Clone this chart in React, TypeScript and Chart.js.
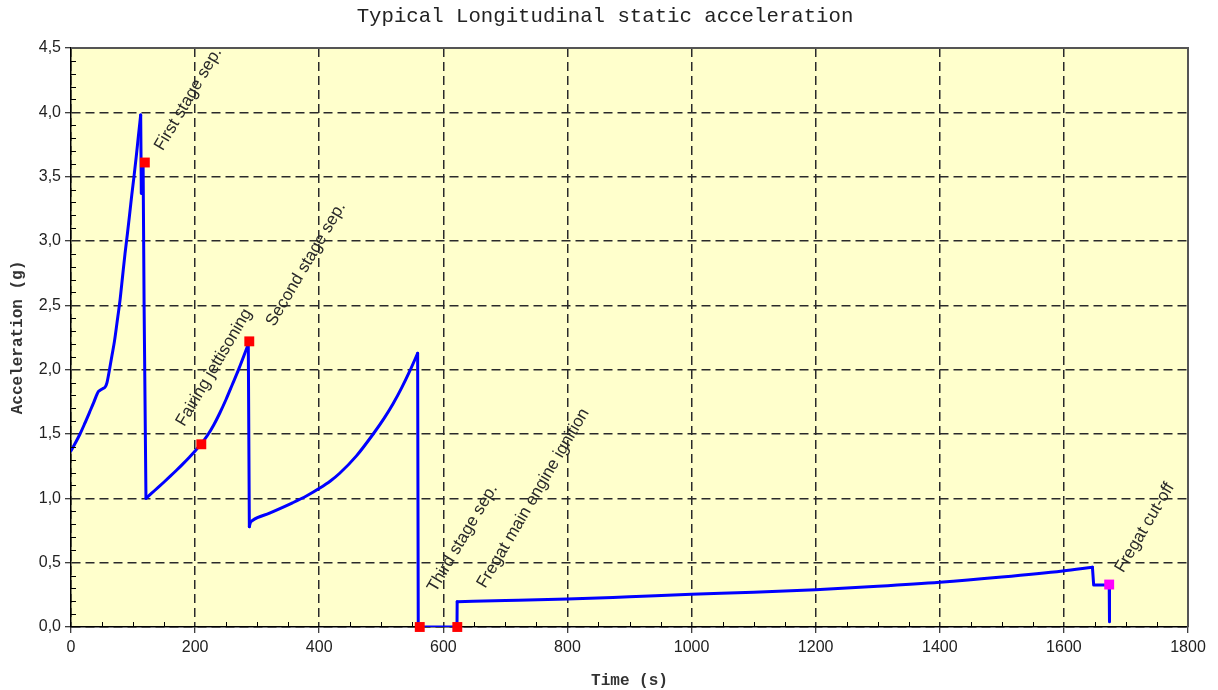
import React, { useEffect, useRef } from 'react';
import { Chart, registerables } from 'chart.js';

Chart.register(...registerables);

const chartTitle = 'Typical Longitudinal static acceleration';
const xAxisTitle = 'Time (s)';
const yAxisTitle = 'Acceleration (g)';

// Acceleration profile by flight phase (time in s, acceleration in g)
// smooth phases
const stage1T = [0, 7, 14.5, 22, 30, 37, 42, 44, 47, 52, 55, 58, 62, 66, 70, 74, 79, 83, 87, 91, 95, 98, 101.5, 105, 108.5, 112.3];
const stage1G = [1.37, 1.43, 1.5, 1.58, 1.67, 1.75, 1.81, 1.83, 1.84, 1.855, 1.865, 1.9, 2.0, 2.11, 2.22, 2.36, 2.54, 2.72, 2.9, 3.06, 3.23, 3.36, 3.5, 3.65, 3.81, 3.98];
const stage2T = [120.8, 130, 140, 150, 160, 170, 180, 190, 200, 210, 220, 230, 240, 250, 260, 270, 280, 285.7];
const stage2G = [1.0, 1.04, 1.083, 1.127, 1.172, 1.218, 1.266, 1.316, 1.368, 1.425, 1.49, 1.57, 1.665, 1.77, 1.885, 2.0, 2.125, 2.2];
const stage3T = [287.4, 289, 293, 320, 357, 380, 401, 418, 433, 460, 487, 505, 519, 533, 546, 558.6];
const stage3G = [0.78, 0.81, 0.83, 0.885, 0.965, 1.02, 1.08, 1.135, 1.195, 1.33, 1.5, 1.625, 1.735, 1.86, 1.99, 2.127];
const fregatT = [622.3, 700, 800, 900, 1000, 1100, 1200, 1300, 1400, 1500, 1598, 1646];
const fregatG = [0.197, 0.205, 0.217, 0.235, 0.254, 0.27, 0.29, 0.316, 0.347, 0.388, 0.435, 0.464];
// abrupt transitions
const sep1T = [112.3, 113.3, 115.6, 116.2, 117, 117.8, 120.8];
const sep1G = [3.98, 3.37, 3.37, 3.6, 3.6, 2.5, 1.0];
const sep2T = [285.7, 286.6, 287.4];
const sep2G = [2.2, 2.2, 0.78];
const coastT = [558.6, 559.6, 622, 622.3];
const coastG = [2.127, 0.0, 0.0, 0.197];
const cutoffT = [1646, 1648, 1673, 1673.5];
const cutoffG = [0.464, 0.326, 0.326, 0.04];

// Flight events
const eventTimes = [119, 210, 287.3, 562, 622.5, 1673];
const eventAccel = [3.61, 1.42, 2.22, 0, 0, 0.33];
const eventLabels = [
  'First stage sep.',
  'Fairing jettisoning',
  'Second stage sep.',
  'Third stage sep.',
  'Fregat main engine ignition',
  'Fregat cut-off',
];
const eventColors = ['#FF0000', '#FF0000', '#FF0000', '#FF0000', '#FF0000', '#FF00FF'];

const xMin = 0, xMax = 1800, xStep = 200, xMinorStep = 50;
const yMin = 0, yMax = 4.5, yStep = 0.5, yMinorStep = 0.1;

// styling (pixel offsets of the event labels from their markers)
const labelOffsetsPx = [[18, -11], [-17, -17], [25, -14], [16, -34], [28, -38], [14, -11]];
const labelAngleDeg = -59.5;
const plotBg = '#FFFFCC';

const decorPlugin = {
  id: 'decor',
  beforeDraw(chart: any) {
    const { ctx, chartArea: a } = chart;
    ctx.save();
    ctx.fillStyle = plotBg;
    ctx.fillRect(a.left, a.top, a.right - a.left, a.bottom - a.top);
    ctx.restore();
  },
  afterDatasetsDraw(chart: any) {
    const { ctx } = chart;
    const xs = chart.scales.x;
    const ys = chart.scales.y;
    ctx.save();
    ctx.font = '17px "Liberation Sans", Arial, sans-serif';
    ctx.fillStyle = '#2a2a2a';
    ctx.textAlign = 'left';
    ctx.textBaseline = 'alphabetic';
    eventLabels.forEach((lbl, i) => {
      const px = xs.getPixelForValue(eventTimes[i]) + labelOffsetsPx[i][0];
      const py = ys.getPixelForValue(eventAccel[i]) + labelOffsetsPx[i][1];
      ctx.save();
      ctx.translate(px, py);
      ctx.rotate((labelAngleDeg * Math.PI) / 180);
      ctx.fillText(lbl, 0, 0);
      ctx.restore();
    });
    ctx.restore();
  },
  afterDraw(chart: any) {
    const { ctx, chartArea: a } = chart;
    const xs = chart.scales.x;
    const ys = chart.scales.y;
    ctx.save();
    // frame top & right
    ctx.strokeStyle = '#555555';
    ctx.lineWidth = 2;
    ctx.beginPath();
    ctx.moveTo(a.left, a.top);
    ctx.lineTo(a.right, a.top);
    ctx.lineTo(a.right, a.bottom);
    ctx.stroke();
    // minor ticks
    ctx.strokeStyle = '#000000';
    ctx.lineWidth = 1;
    ctx.beginPath();
    const nY = Math.round((yMax - yMin) / yMinorStep);
    const perY = Math.round(yStep / yMinorStep);
    for (let i = 1; i < nY; i++) {
      if (i % perY === 0) continue;
      const py = Math.round(ys.getPixelForValue(yMin + i * yMinorStep)) + 0.5;
      ctx.moveTo(a.left, py);
      ctx.lineTo(a.left + 5, py);
    }
    const nX = Math.round((xMax - xMin) / xMinorStep);
    const perX = Math.round(xStep / xMinorStep);
    for (let i = 1; i < nX; i++) {
      if (i % perX === 0) continue;
      const px = Math.round(xs.getPixelForValue(xMin + i * xMinorStep)) + 0.5;
      ctx.moveTo(px, a.bottom);
      ctx.lineTo(px, a.bottom - 5);
    }
    ctx.stroke();
    // title
    ctx.fillStyle = '#222222';
    ctx.font = '20.7px "Liberation Mono", "Courier New", monospace';
    ctx.textAlign = 'center';
    ctx.textBaseline = 'middle';
    ctx.fillText(chartTitle, 605, 17);
    // axis titles
    ctx.font = 'bold 16px "Liberation Mono", "Courier New", monospace';
    ctx.fillStyle = '#333333';
    ctx.fillText(xAxisTitle, (a.left + a.right) / 2, 681);
    ctx.save();
    ctx.translate(18, (a.top + a.bottom) / 2);
    ctx.rotate(-Math.PI / 2);
    ctx.fillText(yAxisTitle, 0, 0);
    ctx.restore();
    ctx.restore();
  },
};

const toPoints = (ts: number[], gs: number[]) => ts.map((t, i) => ({ x: t, y: gs[i] }));

export default function App() {
  const canvasRef = useRef<HTMLCanvasElement | null>(null);

  useEffect(() => {
    if (!canvasRef.current) return;
    const lineStyle = {
      borderColor: '#0000FF',
      borderWidth: 3,
      pointRadius: 0,
      fill: false,
      order: 2,
      borderCapStyle: 'round',
      borderJoinStyle: 'round',
    };
    const smooth = [
      [stage1T, stage1G],
      [stage2T, stage2G],
      [stage3T, stage3G],
      [fregatT, fregatG],
    ].map(([t, g], i) => ({
      ...lineStyle,
      label: 'smooth' + i,
      data: toPoints(t, g),
      cubicInterpolationMode: 'monotone',
    }));
    const straight = [
      [sep1T, sep1G],
      [sep2T, sep2G],
      [coastT, coastG],
      [cutoffT, cutoffG],
    ].map(([t, g], i) => ({
      ...lineStyle,
      label: 'jump' + i,
      data: toPoints(t, g),
      tension: 0,
    }));
    const eventData = eventTimes.map((t, i) => ({ x: t, y: eventAccel[i] }));
    const tickFont = { family: '"Liberation Sans", Arial, sans-serif', size: 16 };
    const chart = new Chart(canvasRef.current, {
      type: 'line',
      data: {
        datasets: [
          {
            type: 'scatter',
            label: 'Events',
            data: eventData,
            showLine: false,
            pointStyle: 'rect',
            pointRadius: 7,
            pointHoverRadius: 7,
            pointBackgroundColor: eventColors,
            pointBorderWidth: 0,
            backgroundColor: eventColors,
            borderWidth: 0,
            order: 1,
            clip: false,
          } as any,
          ...smooth,
          ...straight,
        ],
      },
      options: {
        animation: false,
        responsive: false,
        maintainAspectRatio: false,
        events: [],
        layout: { padding: { top: 48, right: 30, left: 0, bottom: 0 } },
        plugins: {
          legend: { display: false },
          title: { display: false },
          tooltip: { enabled: false },
        },
        scales: {
          x: {
            type: 'linear',
            min: xMin,
            max: xMax,
            ticks: {
              stepSize: xStep,
              autoSkip: false,
              maxRotation: 0,
              padding: 5,
              color: '#222222',
              font: tickFont,
              callback: (v: any) => String(Math.round(Number(v))),
            },
            grid: {
              color: '#2a2a2a',
              lineWidth: 1.5,
              tickLength: 6,
              tickColor: '#000000',
              tickWidth: 1,
            },
            border: { display: true, color: '#000000', width: 1.5, dash: [9, 5] },
            afterFit: (scale: any) => {
              scale.height = 63;
            },
          },
          y: {
            type: 'linear',
            min: yMin,
            max: yMax,
            ticks: {
              stepSize: yStep,
              autoSkip: false,
              padding: 4,
              color: '#222222',
              font: tickFont,
              callback: (v: any) => Number(v).toFixed(1).replace('.', ','),
            },
            grid: {
              color: '#2a2a2a',
              lineWidth: 1.5,
              tickLength: 6,
              tickColor: '#000000',
              tickWidth: 1,
            },
            border: { display: true, color: '#000000', width: 1.5, dash: [9, 5] },
            afterFit: (scale: any) => {
              scale.width = 71;
            },
          },
        },
      },
      plugins: [decorPlugin],
    } as any);
    return () => chart.destroy();
  }, []);

  return (
    <div style={{ position: 'absolute', left: 0, top: 0, width: 1218, height: 690, background: '#ffffff' }}>
      <canvas ref={canvasRef} width={1218} height={690} style={{ display: 'block' }} />
    </div>
  );
}
